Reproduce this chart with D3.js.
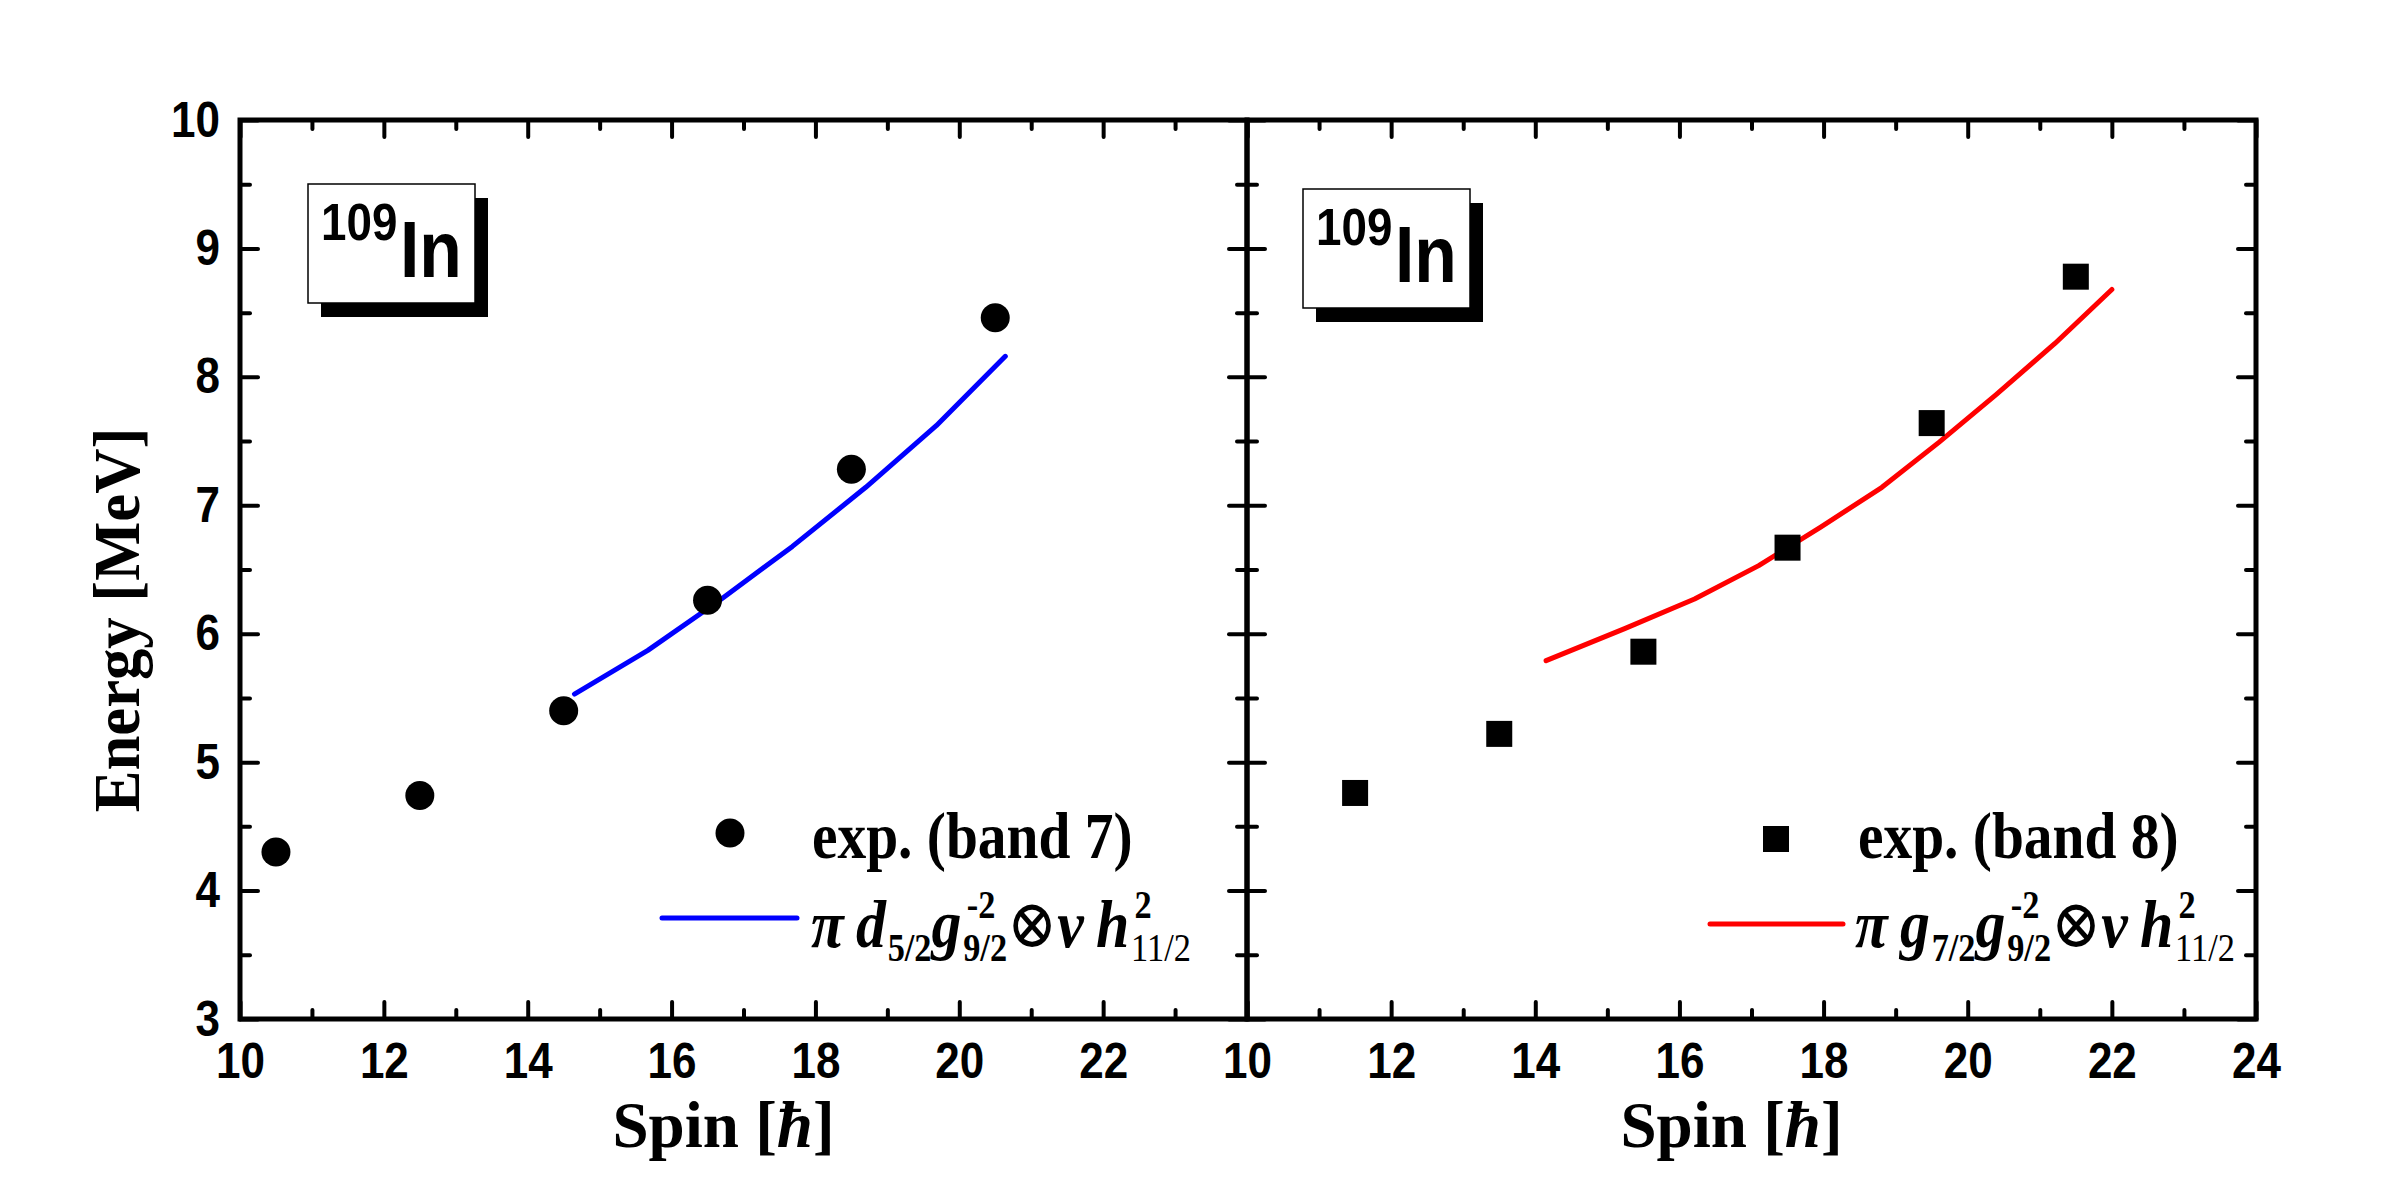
<!DOCTYPE html>
<html>
<head>
<meta charset="utf-8">
<script src="https://cdn.jsdelivr.net/npm/d3@7"></script>
<style>
  html, body { margin: 0; padding: 0; background: #fff; }
  svg { display: block; }
  .tick line { stroke: #000; stroke-width: 4; stroke-linecap: round; }
  .ticklab text { font-family: "Liberation Sans", Arial, sans-serif; font-weight: bold; font-size: 50px; fill: #000; }
</style>
</head>
<body>
<div id="chart"></div>
<script>
(function() {

  // experimental band 7 (circles) and calculation (blue)
  var band7Spin   = [10.5, 12.5, 14.5, 16.5, 18.5, 20.5],
      band7Energy = [4.30, 4.74, 5.40, 6.26, 7.28, 8.46],
      calc7Spin   = [14.65, 15.67, 16.67, 17.68, 18.70, 19.68, 20.64],
      calc7Energy = [5.53, 5.87, 6.26, 6.68, 7.14, 7.62, 8.16],

  // experimental band 8 (squares) and calculation (red)
      band8Spin   = [11.5, 13.5, 15.5, 17.5, 19.5, 21.5],
      band8Energy = [4.76, 5.22, 5.86, 6.67, 7.64, 8.78],
      calc8Spin   = [14.15, 15.24, 16.21, 17.10, 17.96, 18.81, 19.60, 20.39, 21.21, 22.0],
      calc8Energy = [5.79, 6.04, 6.27, 6.53, 6.83, 7.14, 7.49, 7.86, 8.26, 8.68],

      xTicksLeft  = [10, 12, 14, 16, 18, 20, 22],
      xTicksRight = [10, 12, 14, 16, 18, 20, 22, 24],
      yTicks      = [3, 4, 5, 6, 7, 8, 9, 10],
      xMinor      = [11, 13, 15, 17, 19, 21, 23],
      yMinor      = [3.5, 4.5, 5.5, 6.5, 7.5, 8.5, 9.5];

  var serif = '"Liberation Serif", "Times New Roman", "DejaVu Serif", serif',
      sans  = '"Liberation Sans", Arial, sans-serif',
      squeeze = 0.88;   // the original text is a bit narrower than the fonts here

  var top = 120, bottom = 1019;

  var svg = d3.select("#chart").append("svg")
      .attr("width", 2400)
      .attr("height", 1200);

  var y = d3.scaleLinear().domain([3, 10]).range([bottom, top]);

  var zip = function(a, b) { return a.map(function(v, i) { return [v, b[i]]; }); };

  var panels = [
    { x0: 240, x1: 1247, xLabels: xTicksLeft, pts: zip(band7Spin, band7Energy), calc: zip(calc7Spin, calc7Energy),
      color: "#0000ff", marker: "circle", box: [308, 184], band: "exp. (band 7)",
      legend: { mx: 730, my: 833, tx: 812, ty: 858, lx0: 662, lx1: 797, ly: 918, fx: 811, fy: 947 },
      formula: [["π", "bi"], [" ", "bi"], ["d", "bi"], ["5/2", null, "b"], ["g", "bi"], ["9/2", "-2", "b"],
                ["⊗", "r"], ["ν", "bi"], [" ", "bi"], ["h", "bi"], ["11/2", "2", "r"]] },
    { x0: 1247, x1: 2256, xLabels: xTicksRight, pts: zip(band8Spin, band8Energy), calc: zip(calc8Spin, calc8Energy),
      color: "#ff0000", marker: "square", box: [1303, 189], band: "exp. (band 8)",
      legend: { mx: 1776, my: 839, tx: 1858, ty: 858, lx0: 1710, lx1: 1843, ly: 924, fx: 1855, fy: 947 },
      formula: [["π", "bi"], [" ", "bi"], ["g", "bi"], ["7/2", null, "b"], ["g", "bi"], ["9/2", "-2", "b"],
                ["⊗", "r"], ["ν", "bi"], [" ", "bi"], ["h", "bi"], ["11/2", "2", "r"]] }
  ];

  // text drawn narrower than its font, anchored at (x, y)
  var narrowText = function(g, x, y, sx) {
    return g.append("text").attr("transform", "translate(" + x + "," + y + ") scale(" + sx + ",1)");
  };

  var drawFormula = function(g, x0, y0, parts) {
    var x = 0, mainSize = 68, smallSize = 39;
    g.attr("transform", "translate(" + x0 + "," + y0 + ") scale(0.88,1)");
    parts.forEach(function(p) {
      if (p.length === 2) {
        var t = g.append("text")
          .attr("x", x).attr("y", 0)
          .attr("font-family", serif)
          .attr("font-size", mainSize)
          .attr("font-weight", p[1] === "bi" ? "bold" : "normal")
          .attr("font-style", p[1] === "bi" ? "italic" : "normal")
          .text(p[0]);
        var w = p[0] === " " ? 14 : t.node().getComputedTextLength();
        x += w;
      } else {
        var sub = g.append("text")
          .attr("x", x + 2).attr("y", 14)
          .attr("font-family", serif)
          .attr("font-size", smallSize)
          .attr("font-weight", p[2] === "b" ? "bold" : "normal")
          .text(p[0]);
        var w1 = sub.node().getComputedTextLength() + 2, w2 = 0;
        if (p[1]) {
          var sup = g.append("text")
            .attr("x", x + 6).attr("y", -29)
            .attr("font-family", serif)
            .attr("font-size", smallSize)
            .attr("font-weight", "bold")
            .text(p[1]);
          w2 = sup.node().getComputedTextLength() + 6;
        }
        x += Math.max(w1, w2);
      }
    });
  };

  var squeezeLabels = function(sel) {
    sel.selectAll("text").each(function() {
      var t = d3.select(this);
      t.attr("x", (+t.attr("x") || 0) / squeeze).attr("transform", "scale(" + squeeze + ",1)");
    });
  };

  panels.forEach(function(p, i) {
    var x = d3.scaleLinear().domain([10, 24]).range([p.x0, p.x1]);
    var g = svg.append("g");

    // ticks on all four sides, pointing inward
    var addTicks = function(axis, tr, size) {
      g.append("g").attr("transform", tr)
        .call(axis.tickSize(-size).tickFormat(""))
        .call(function(s) { s.select(".domain").remove(); });
    };
    addTicks(d3.axisBottom(x).tickValues(xTicksRight), "translate(0," + bottom + ")", 17);
    addTicks(d3.axisBottom(x).tickValues(xMinor), "translate(0," + bottom + ")", 9);
    addTicks(d3.axisTop(x).tickValues(xTicksRight), "translate(0," + top + ")", 17);
    addTicks(d3.axisTop(x).tickValues(xMinor), "translate(0," + top + ")", 9);
    addTicks(d3.axisLeft(y).tickValues(yTicks), "translate(" + p.x0 + ",0)", 18);
    addTicks(d3.axisLeft(y).tickValues(yMinor), "translate(" + p.x0 + ",0)", 10);
    addTicks(d3.axisRight(y).tickValues(yTicks), "translate(" + p.x1 + ",0)", 18);
    addTicks(d3.axisRight(y).tickValues(yMinor), "translate(" + p.x1 + ",0)", 10);

    // frame
    g.append("rect")
      .attr("x", p.x0).attr("y", top)
      .attr("width", p.x1 - p.x0).attr("height", bottom - top)
      .attr("fill", "none").attr("stroke", "#000").attr("stroke-width", 5);

    // tick labels
    g.append("g").attr("class", "ticklab")
      .attr("transform", "translate(0," + bottom + ")")
      .call(d3.axisBottom(x).tickValues(p.xLabels).tickSize(0).tickPadding(24).tickFormat(d3.format("d")))
      .call(function(s) { s.select(".domain").remove(); })
      .call(squeezeLabels);
    if (i === 0) {
      g.append("g").attr("class", "ticklab")
        .attr("transform", "translate(" + p.x0 + ",0)")
        .call(d3.axisLeft(y).tickValues(yTicks).tickSize(0).tickPadding(20).tickFormat(d3.format("d")))
        .call(function(s) { s.select(".domain").remove(); })
        .call(squeezeLabels);
      g.append("text")
        .attr("transform", "translate(139,620) rotate(-90) scale(0.95,1)")
        .attr("text-anchor", "middle")
        .attr("font-family", serif).attr("font-weight", "bold").attr("font-size", 66)
        .text("Energy [MeV]");
    }
    g.selectAll(".ticklab text").attr("font-family", null);

    // axis title
    g.append("text")
      .attr("x", (p.x0 + p.x1) / 2 - 20).attr("y", 1147)
      .attr("text-anchor", "middle")
      .attr("font-family", serif).attr("font-weight", "bold").attr("font-size", 65)
      .html("Spin [<tspan font-style='italic'>ħ</tspan>]");

    // calculated line
    g.append("path")
      .datum(p.calc)
      .attr("fill", "none").attr("stroke", p.color).attr("stroke-width", 5)
      .attr("stroke-linecap", "round").attr("stroke-linejoin", "round")
      .attr("d", d3.line().x(function(d) { return x(d[0]); }).y(function(d) { return y(d[1]); }));

    // experimental points
    if (p.marker === "circle") {
      g.selectAll(".pt").data(p.pts).enter().append("circle")
        .attr("cx", function(d) { return x(d[0]); })
        .attr("cy", function(d) { return y(d[1]); })
        .attr("r", 14.5).attr("fill", "#000");
    } else {
      g.selectAll(".pt").data(p.pts).enter().append("rect")
        .attr("x", function(d) { return x(d[0]) - 13; })
        .attr("y", function(d) { return y(d[1]) - 13; })
        .attr("width", 26).attr("height", 26).attr("fill", "#000");
    }

    // nucleus label box with shadow
    var bx = p.box[0], by = p.box[1];
    g.append("rect").attr("x", bx + 13).attr("y", by + 14).attr("width", 167).attr("height", 119).attr("fill", "#000");
    g.append("rect").attr("x", bx).attr("y", by).attr("width", 167).attr("height", 119)
      .attr("fill", "#fff").attr("stroke", "#000").attr("stroke-width", 1.5);
    narrowText(g, bx + 13, by + 56, 0.88)
      .attr("font-family", sans).attr("font-weight", "bold").attr("font-size", 52).text("109");
    narrowText(g, bx + 92, by + 93, 0.87)
      .attr("font-family", sans).attr("font-weight", "bold").attr("font-size", 80).text("In");

    // legend
    var L = p.legend;
    if (p.marker === "circle") {
      g.append("circle").attr("cx", L.mx).attr("cy", L.my).attr("r", 14.5).attr("fill", "#000");
    } else {
      g.append("rect").attr("x", L.mx - 13).attr("y", L.my - 13).attr("width", 26).attr("height", 26).attr("fill", "#000");
    }
    narrowText(g, L.tx, L.ty, 0.87)
      .attr("font-family", serif).attr("font-weight", "bold").attr("font-size", 66)
      .text(p.band);
    g.append("line").attr("x1", L.lx0).attr("x2", L.lx1).attr("y1", L.ly).attr("y2", L.ly)
      .attr("stroke", p.color).attr("stroke-width", 5).attr("stroke-linecap", "round");
    drawFormula(g.append("g"), L.fx, L.fy, p.formula);
  });

}());
</script>
</body>
</html>
